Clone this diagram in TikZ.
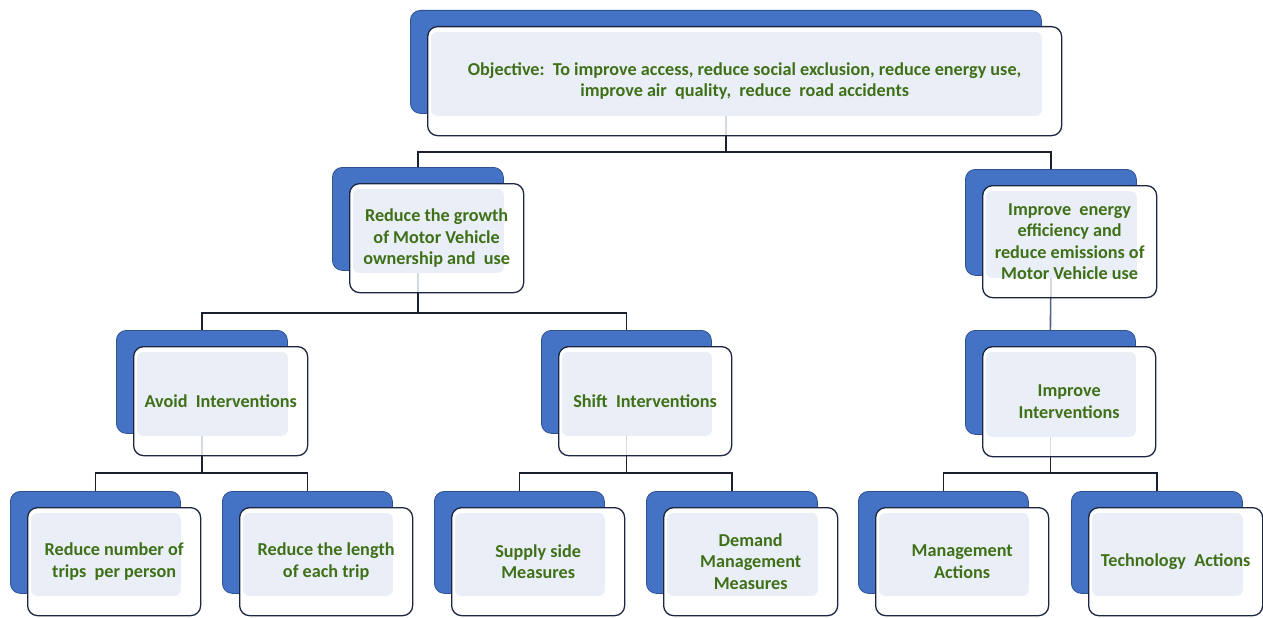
\documentclass[tikz,border=0pt]{standalone}
\usepackage{fontspec}
\setmainfont{Carlito}
\usetikzlibrary{calc}
\definecolor{backblue}{HTML}{4472C4}
\definecolor{backedge}{HTML}{2F528F}
\definecolor{navy}{HTML}{1C2541}
\definecolor{innerc}{HTML}{EAEFF7}
\definecolor{txtc}{HTML}{3F7018}
\definecolor{linec}{HTML}{1A2030}
\definecolor{linec2}{HTML}{55627E}
\definecolor{faintc}{HTML}{D4D8E0}
\pgfdeclarelayer{bg}
\pgfdeclarelayer{bk}
\pgfdeclarelayer{cn}
\pgfsetlayers{bg,bk,cn,main}
\tikzset{
  backbox/.style={draw=backedge, line width=0.8pt, fill=backblue, rounded corners=10pt, inner sep=0pt},
  frontbox/.style={draw=navy, line width=1.3pt, fill=white, rounded corners=10pt, inner sep=0pt},
  innerfill/.style={fill=innerc, rounded corners=6pt},
  lbl/.style={text=txtc, font=\bfseries\fontsize{18.2}{21.5}\selectfont, align=center, inner sep=0pt},
  conn/.style={draw=linec, line width=1.3pt},
  conn2/.style={draw=linec2, line width=1.6pt},
  faint/.style={draw=faintc, line width=1.2pt},
}
\newcommand\twobox[6]{%
  \begin{pgfonlayer}{bk}
  \node[backbox, minimum width={#4*1pt}, minimum height={#5*1pt}, anchor=north west] (#1B) at (#2,#3) {};
  \end{pgfonlayer}
  \node[frontbox, minimum width={(#4+3)*1pt}, minimum height={(#5+6)*1pt}, anchor=north west] (#1) at ({#2+17},{#3+16}) {};
  \fill[innerfill] ([shift={(4,6)}]#1.north west) rectangle ([shift={(0,2)}]#1B.south east);
  \node[lbl] (#1T) at (#1.center) {#6};
}
\begin{document}
\begin{tikzpicture}[x=1pt,y=-1pt]
\begin{pgfonlayer}{bg}
\fill[white] (0,0) rectangle (1263,618);
\end{pgfonlayer}
\useasboundingbox (0,0) rectangle (1263,618);
\twobox{top}{410}{10}{631}{103}{Objective:\ \ To improve access, reduce social exclusion, reduce energy use,\\ improve air\ \ quality,\ \ reduce\ \ road accidents}
\twobox{grow}{332}{167}{171}{103}{Reduce the growth\\ of Motor Vehicle\\ ownership and\ \ use}
\twobox{ener}{965}{169}{171}{106}{Improve\ \ energy\\ efficiency and\\ reduce emissions of\\ Motor Vehicle use}
\twobox{avoid}{116}{330}{171}{103}{Avoid\ \ Interventions}
\twobox{shift}{541}{330}{170}{103}{Shift\ \ Interventions}
\twobox{impr}{965}{330}{170}{104}{Improve\\ Interventions}
\twobox{rnum}{10}{491}{170}{102}{Reduce number of\\ trips\ \ per person}
\twobox{rlen}{222}{491}{170}{102}{Reduce the length\\ of each trip}
\twobox{sup}{434}{491}{170}{102}{Supply side\\ Measures}
\twobox{dem}{646}{491}{171}{102}{Demand\\ Management\\ Measures}
\twobox{man}{858}{491}{170}{102}{Management\\ Actions}
\twobox{tech}{1071}{491}{171}{102}{Technology\ \ Actions}
\begin{pgfonlayer}{cn}
\coordinate (bus1) at (topB.south |- 0,152);
\coordinate (bus2) at (growB.south |- 0,313);
\coordinate (bus3) at (avoidB.south |- 0,473);
\coordinate (bus4) at (shiftB.south |- 0,473);
\coordinate (bus5) at (imprB.south |- 0,473);
\draw[conn] (topB.south) -- (bus1) -| (growB.north);
\draw[conn] (bus1) -| (enerB.north);
\draw[conn] (growB.south) -- (bus2) -| (avoidB.north);
\draw[conn] (bus2) -| (shiftB.north);
\draw[conn2] (enerB.south) -- (imprB.north);
\draw[conn] (avoidB.south) -- (bus3) -| (rnumB.north);
\draw[conn] (bus3) -| (rlenB.north);
\draw[conn] (shiftB.south) -- (bus4) -| (supB.north);
\draw[conn] (bus4) -| (demB.north);
\draw[conn] (imprB.south) -- (bus5) -| (manB.north);
\draw[conn] (bus5) -| (techB.north);
\end{pgfonlayer}
\foreach \p in {top,grow,ener,avoid,shift,impr}{
  \draw[faint] ([yshift=-2pt]\p B.south) -- ([yshift=1pt]\p B.south |- \p.south);
}
\end{tikzpicture}
\end{document}
